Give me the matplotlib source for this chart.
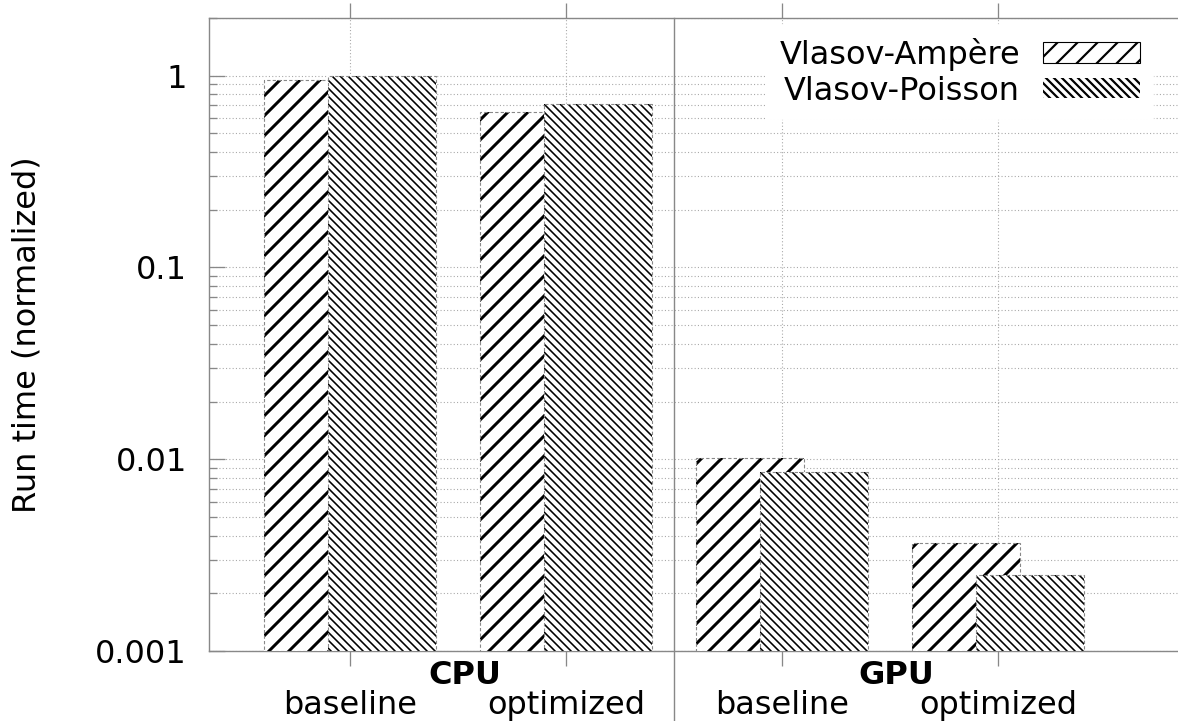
import matplotlib
matplotlib.use("Agg")
import matplotlib.pyplot as plt
from matplotlib.patches import Patch
from matplotlib.ticker import LogLocator, NullFormatter
import matplotlib.transforms as mtransforms

# normalized run times, read per platform / variant
groups = ["CPU", "GPU"]
variants = ["baseline", "optimized"]
series = ["Vlasov-Ampère", "Vlasov-Poisson"]
ampere = [0.953, 0.647, 0.0102, 0.00365]
poisson = [1.0, 0.712, 0.00857, 0.00250]

GREY = "#888888"
W, H, DPI = 1178, 721, 120


def pt(p):
    # pixel size -> points at the output dpi
    return p * 72 / DPI


FS = pt(32)
fig = plt.figure(figsize=(W / DPI, H / DPI), dpi=DPI)
ax = fig.add_axes([209 / W, 70 / H, (W - 209) / W, 633 / H])

pos = list(range(len(ampere)))
off, width = 0.15, 0.5


def hatched(x, h, hatch, lw, z):
    with plt.rc_context({"hatch.linewidth": lw}):
        ax.bar(x, h, width, bottom=1e-3, facecolor="white", edgecolor="black",
               linewidth=0, hatch=hatch, zorder=z)
    ax.bar(x, h, width, bottom=1e-3, facecolor="none", edgecolor=GREY,
           linewidth=pt(1.1), linestyle=(0, (3, 2)), zorder=z + 0.1)


hatched([p - off for p in pos], [v - 1e-3 for v in ampere], "//", pt(3.0), 3)
hatched([p + off for p in pos], [v - 1e-3 for v in poisson], "\\" * 5, pt(1.6), 4)

ax.set_yscale("log")
ax.set_ylim(1e-3, 2)
ax.set_xlim(-0.653, (W - 350) / 216)
ax.set_yticks([1e-3, 1e-2, 1e-1, 1], ["0.001", "0.01", "0.1", "1"])
ax.yaxis.set_minor_locator(LogLocator(base=10, subs=range(2, 10)))
ax.yaxis.set_minor_formatter(NullFormatter())
ax.set_xticks(pos, [""] * len(pos))

ax.tick_params(axis="y", which="major", direction="in", length=pt(16), width=pt(1.3),
               color=GREY, labelsize=FS, pad=pt(22))
ax.tick_params(axis="y", which="minor", direction="in", length=pt(8), width=pt(1.3),
               color=GREY)
ax.tick_params(axis="x", which="major", direction="out", length=pt(15), width=pt(1.3),
               color=GREY, top=True, bottom=True)
ax.tick_params(axis="x", which="minor", bottom=False, top=False)

for s in ["left", "top", "bottom"]:
    ax.spines[s].set_color(GREY)
    ax.spines[s].set_linewidth(pt(1.4))
ax.spines["right"].set_visible(False)

ax.grid(axis="y", which="both", color="#aaaaaa", lw=pt(1.1), linestyle=(0, (1, 2)), zorder=0)
ax.grid(axis="x", which="major", color="#aaaaaa", lw=pt(1.1), linestyle=(0, (1, 2)), zorder=0)
ax.set_axisbelow(True)

# separator between the CPU and GPU blocks
ax.axvline(1.5, ymin=-0.12, ymax=1, color=GREY, lw=pt(1.4), clip_on=False, zorder=5)

trans = mtransforms.blended_transform_factory(ax.transData, ax.transAxes)
for p in pos:
    ax.text(p, -0.0995, variants[p % 2], transform=trans, ha="center", va="baseline",
            fontsize=FS)
for i, g in enumerate(groups):
    ax.text(2 * i + 0.53, -0.052, g, transform=trans, ha="center", va="baseline",
            fontsize=FS, fontweight="bold")

fig.text(27 / W, (H - 335) / H, "Run time (normalized)", rotation=90,
         ha="center", va="center", fontsize=FS)

handles = [
    Patch(facecolor="white", edgecolor="black", hatch="//", linewidth=pt(1.1)),
    Patch(facecolor="white", edgecolor="black", hatch="\\" * 5, linewidth=0),
]
with plt.rc_context({"hatch.linewidth": pt(2.2), "hatch.color": "black"}):
    leg = ax.legend(handles, series, loc="upper right", markerfirst=False,
                    bbox_to_anchor=(1153 / W, 1 - 25 / H), bbox_transform=fig.transFigure,
                    fontsize=FS, frameon=True, fancybox=False, framealpha=1,
                    edgecolor="white", handlelength=3.05, handleheight=0.6,
                    handletextpad=0.7, labelspacing=0.15, borderpad=0.4,
                    borderaxespad=0)
leg.set_zorder(10)

fig.savefig("out.png", dpi=DPI)
